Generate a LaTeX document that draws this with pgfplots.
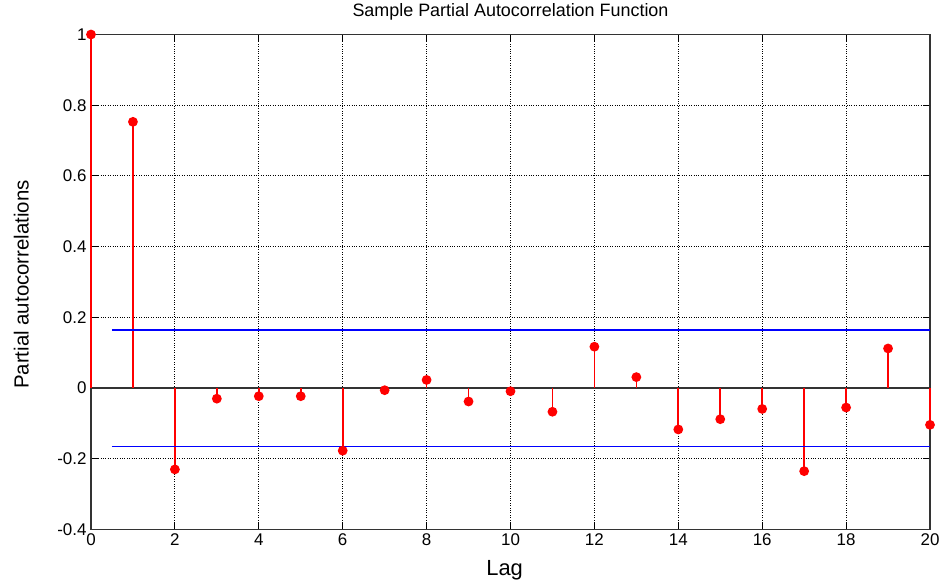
\documentclass[border=0pt]{standalone}
\usepackage{pgfplots}
\pgfplotsset{compat=1.18}
\usepackage{fontspec}
\setmainfont{Liberation Sans}
\definecolor{mblue}{RGB}{0,0,255}
\definecolor{mred}{RGB}{255,0,0}
\begin{document}
\begin{tikzpicture}
\begin{axis}[
  name=ax,
  scale only axis,
  width=839bp, height=495bp,
  xmin=0, xmax=20, ymin=-0.4, ymax=1,
  xtick={0,2,...,20},
  ytick={-0.4,-0.2,0,0.2,0.4,0.6,0.8,1},
  yticklabels={-0.4,-0.2,0,0.2,0.4,0.6,0.8,1},
  grid=major,
  major grid style={black, dotted, line width=1pt},
  tick align=inside,
  major tick length=7bp,
  tick style={black, line width=0.9pt},
  axis line style={black!80, line width=1.2pt},
  ticklabel style={font=\fontsize{17}{19}\selectfont},
  xticklabel style={yshift=-1bp},
  yticklabel style={xshift=-1bp},
  /pgf/number format/assume math mode=true,
  xlabel={Lag},
  ylabel={Partial autocorrelations},
  xlabel style={font=\fontsize{22}{25}\selectfont, at={(axis description cs:0.493,-0.083)}, anchor=center},
  ylabel style={font=\fontsize{20.5}{23}\selectfont, at={(axis description cs:-0.083,0.495)}, anchor=center},
  title={Sample Partial Autocorrelation Function},
  title style={font=\fontsize{18}{20}\selectfont, at={(axis description cs:0.5,1.033)}, anchor=center},
  clip=false,
]
\addplot[black!80, line width=1.2pt, forget plot] coordinates {(0,0) (20,0)};
\addplot[ycomb, mred, line width=1.7pt, mark=*, mark size=4bp, mark options={fill=mred, draw=mred}] coordinates {
(0,1) (1,0.753) (2,-0.230) (3,-0.030) (4,-0.023) (5,-0.023) (6,-0.177)
(7,-0.006) (8,0.023) (9,-0.038) (10,-0.009) (11,-0.067) (12,0.117)
(13,0.031) (14,-0.117) (15,-0.088) (16,-0.059) (17,-0.235) (18,-0.055)
(19,0.112) (20,-0.104)
};
\addplot[draw=mblue, line width=1.7pt, no marks] coordinates {(0.5,0.165) (20,0.165)};
\addplot[draw=mblue, line width=1.7pt, no marks] coordinates {(0.5,-0.165) (20,-0.165)};
\end{axis}
\pgfresetboundingbox
\path ([xshift=-91bp,yshift=-54bp]ax.south west) rectangle ([xshift=11bp,yshift=34.5bp]ax.north east);
\end{tikzpicture}
\end{document}
